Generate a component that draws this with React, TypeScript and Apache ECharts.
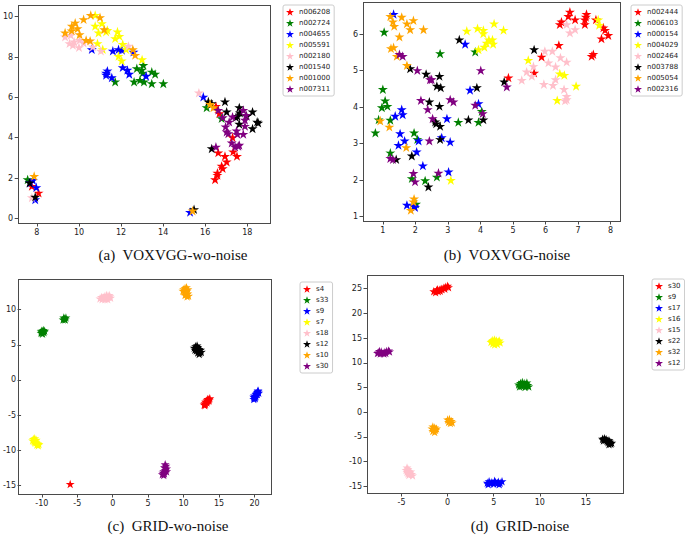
import React, { useEffect, useRef } from "react";
import * as echarts from "echarts";

const STAR =
  "path://M50 0L61.17 34.63L97.55 34.55L68.07 55.87L79.39 90.45L50 69L20.61 90.45L31.93 55.87L2.45 34.55L38.83 34.63Z";

const COLORS = ["#ff0000", "#008000", "#0000ff", "#ffff00", "#ffc0cb", "#000000", "#ffa500", "#800080"];

type P = [number, number];

// ---------- (a) VOXVGG-wo-noise ----------
const A_NAMES = ["n006208", "n002724", "n004655", "n005591", "n002180", "n001540", "n001000", "n007311"];
const A_N006208: P[] = [[16.51,5.57],[16.67,5.21],[17.3,4.02],[17.33,3.31],[17.51,3.09],[16.94,3.09],[17.02,2.81],[16.62,3.26],[16.78,2.6],[16.83,2.48],[16.58,2.26],[16.58,2.15],[16.47,1.93],[7.76,1.6],[8.08,1.27]];
const A_N002724: P[] = [[12.75,7.44],[13.06,7.6],[12.98,7.36],[13.03,7.22],[13.46,7.27],[13.62,7.16],[12.9,6.86],[13.09,6.78],[12.62,6.78],[13.46,6.69],[14.01,6.69],[11.72,6.78],[16.07,5.5],[16.78,4.96],[7.56,1.93]];
const A_N004655: P[] = [[10.61,8.38],[11.61,8.31],[11.88,8.38],[12.04,8.35],[12.59,8.26],[11.29,7.22],[11.35,7.32],[11.29,7.11],[11.56,6.99],[12.08,7.49],[12.3,7.36],[12.39,7.16],[13.19,7.06],[15.91,6.03],[15.28,0.31],[7.81,1.9],[7.97,1.54],[7.68,1.77],[7.92,0.94]];
const A_N005591: P[] = [[10.77,10.08],[11.09,9.67],[10.77,9.54],[10.93,9.21],[11.29,9.26],[11.35,9.34],[11.83,9.26],[11.92,9.04],[11.72,8.93],[12.08,8.64],[11.88,8.05],[12.03,7.82],[13.0,7.88],[10.88,8.68],[11.13,8.38],[12.24,8.38]];
const A_N002180: P[] = [[9.34,9.01],[9.61,9.09],[9.55,8.68],[9.77,8.76],[10.03,8.84],[10.0,8.48],[10.22,8.71],[9.71,8.6],[10.66,8.51],[11.04,8.31],[12.35,8.55],[15.7,6.23],[7.76,1.04]];
const A_N001540: P[] = [[16.15,5.79],[16.31,5.7],[16.94,5.79],[17.02,5.29],[17.62,5.5],[17.46,5.01],[17.53,5.07],[17.62,4.68],[17.65,5.24],[17.97,5.07],[18.25,5.29],[18.25,4.46],[18.47,4.79],[18.52,4.74],[16.31,3.47],[7.65,1.77],[7.92,1.07],[15.47,0.45]];
const A_N001000: P[] = [[9.34,9.21],[9.66,9.54],[9.82,9.7],[9.65,9.31],[9.93,9.42],[10.03,9.12],[10.22,9.87],[10.56,10.08],[10.34,8.84],[10.53,8.81],[11.0,9.97],[11.2,9.37],[12.56,8.38],[12.67,8.1],[16.39,5.5],[16.23,5.67],[7.87,2.1],[15.4,0.38]];
const A_N007311: P[] = [[16.62,5.37],[16.83,5.01],[17.14,4.79],[17.3,5.04],[16.97,4.55],[17.02,4.3],[17.1,4.21],[17.49,4.35],[17.53,4.18],[17.26,3.75],[17.42,3.55],[17.57,3.59],[16.51,3.55],[17.81,5.37],[17.94,5.12],[17.89,4.88],[17.89,4.58],[17.81,4.18],[17.62,3.64]];

// ---------- (b) VOXVGG-noise ----------
const B_NAMES = ["n002444", "n006103", "n000154", "n004029", "n002464", "n003788", "n005054", "n002316"];
const B_N002444: P[] = [[6.75,6.61],[6.7,6.49],[6.44,6.27],[6.49,6.34],[6.91,6.4],[7.21,6.27],[7.24,6.47],[7.26,6.55],[7.21,6.4],[7.55,6.4],[7.78,6.18],[7.83,6.11],[7.93,5.97],[7.72,5.88],[7.42,5.4],[7.47,5.45],[6.41,5.7],[5.88,5.38],[5.65,4.94],[4.86,4.81]];
const B_N006103: P[] = [[1.04,6.06],[2.76,5.47],[3.84,5.52],[1.0,4.49],[1.07,4.18],[1.14,4.03],[0.97,3.99],[0.87,3.66],[1.23,3.65],[0.77,3.3],[1.23,2.75],[3.32,3.59],[3.94,3.59],[4.04,3.89],[1.96,3.3],[2.06,3.12],[1.89,2.05],[2.3,1.99],[2.66,2.09],[2.02,1.35]];
const B_N000154: P[] = [[1.33,6.55],[3.53,5.73],[3.68,4.47],[3.94,4.1],[1.58,3.94],[1.61,3.8],[1.38,3.76],[1.53,3.28],[1.48,2.96],[1.67,3.08],[2.1,3.08],[2.04,2.78],[2.23,2.4],[2.97,3.69],[2.81,3.17],[3.07,3.05],[3.02,2.23],[1.74,1.32],[1.96,1.29],[1.99,1.26]];
const B_N004029: P[] = [[3.58,6.09],[3.91,6.16],[4.09,6.11],[4.09,6.02],[4.42,6.29],[4.71,6.11],[4.19,5.76],[4.12,5.65],[4.26,5.85],[4.37,5.85],[4.39,5.73],[3.94,5.58],[7.62,6.4],[7.65,6.25],[5.47,5.29],[6.44,4.92],[6.58,4.88],[6.94,4.58],[6.36,4.19],[3.09,2.0]];
const B_N002464: P[] = [[6.65,6.27],[6.75,6.04],[6.91,6.13],[5.98,5.54],[6.21,5.54],[6.09,5.22],[5.63,5.12],[5.42,4.97],[5.58,4.85],[5.27,4.74],[5.95,4.63],[6.23,4.6],[6.31,4.76],[6.46,5.36],[6.65,5.24],[6.31,5.11],[6.57,4.49],[6.65,4.3],[6.6,4.18],[6.65,4.21]];
const B_N003788: P[] = [[3.35,5.85],[5.65,5.58],[4.73,4.7],[1.84,5.06],[2.33,4.91],[2.74,4.85],[2.66,4.58],[2.78,4.54],[2.43,4.15],[2.74,4.03],[3.89,4.54],[2.61,3.6],[2.64,3.55],[2.76,3.48],[2.76,3.12],[3.63,3.66],[4.09,3.66],[1.89,2.67],[1.41,2.57],[2.4,1.82]];
const B_N005054: P[] = [[1.23,6.49],[1.31,6.34],[1.35,6.22],[1.58,6.47],[1.74,6.29],[1.84,6.13],[1.94,6.38],[2.25,6.13],[1.51,5.93],[1.25,5.61],[1.33,5.64],[1.43,5.4],[1.74,5.15],[0.92,3.63],[1.2,3.46],[1.72,2.9],[1.96,1.49],[1.94,1.41],[1.86,1.18]];
const B_N002316: P[] = [[1.51,5.45],[1.61,5.4],[2.06,5.01],[2.45,4.76],[2.5,4.76],[4.01,5.01],[4.81,4.56],[2.17,4.19],[2.38,3.94],[3.07,4.21],[3.17,4.15],[3.84,4.06],[4.07,3.83],[2.53,3.69],[1.23,2.6],[1.31,2.57],[2.43,3.08],[1.94,2.19],[1.99,1.96],[2.71,2.2]];

// ---------- (c) GRID-wo-noise ----------
const C_NAMES = ["s4", "s33", "s9", "s7", "s18", "s12", "s10", "s30"];
const C_S4: P[] = [[12.9,-3.5],[13.0,-3.3],[13.1,-3.4],[13.2,-3.1],[13.3,-3.2],[13.3,-2.9],[13.4,-3.0],[13.5,-2.8],[13.6,-2.7],[13.7,-2.6],[13.6,-2.9],[13.1,-3.1],[13.4,-2.7],[13.0,-3.6],[-6.0,-14.8]];
const C_S33: P[] = [[-10.1,6.7],[-9.9,6.6],[-9.7,6.8],[-9.8,7.1],[-10.0,7.0],[-9.9,6.9],[-9.6,7.0],[-10.1,6.9],[-7.0,8.6],[-6.8,8.7],[-6.6,8.9],[-6.9,8.9],[-6.7,8.6]];
const C_S9: P[] = [[19.9,-2.7],[20.0,-2.5],[20.1,-2.6],[20.0,-2.2],[20.2,-2.3],[20.2,-2.0],[20.3,-1.9],[20.4,-1.7],[20.5,-1.6],[20.6,-1.8],[20.5,-1.5],[20.1,-2.4],[20.4,-2.0],[19.9,-2.4]];
const C_S7: P[] = [[-11.2,-8.4],[-11.0,-8.3],[-11.1,-8.7],[-10.9,-8.6],[-10.8,-8.9],[-10.6,-9.0],[-10.7,-9.2],[-10.5,-9.3],[-10.4,-9.1],[-11.0,-8.9],[-10.8,-8.5],[-11.3,-8.6]];
const C_S18: P[] = [[-1.8,11.6],[-1.6,11.8],[-1.4,11.7],[-1.2,11.9],[-1.0,11.6],[-0.8,12.0],[-0.6,11.8],[-0.4,11.9],[-0.3,11.7],[-0.5,12.1],[-1.1,11.5],[-0.7,11.5],[-1.5,11.5],[-0.9,12.1]];
const C_S12: P[] = [[11.5,4.6],[11.7,4.8],[11.9,4.5],[12.0,4.7],[12.2,4.4],[11.8,4.2],[12.1,4.1],[12.3,3.9],[12.4,4.3],[12.5,4.0],[12.2,3.7],[11.6,4.3],[12.0,3.9],[11.9,4.9]];
const C_S10: P[] = [[10.0,12.9],[10.2,13.1],[10.4,13.2],[10.6,12.9],[10.1,12.6],[10.3,12.5],[10.5,12.7],[10.4,12.2],[10.6,12.3],[10.2,12.1],[10.7,12.0],[9.9,12.7],[10.5,11.9]];
const C_S30: P[] = [[7.4,-12.0],[7.5,-12.2],[7.3,-12.4],[7.6,-12.6],[7.4,-12.8],[7.2,-13.0],[7.1,-13.2],[7.0,-13.4],[7.3,-13.3],[7.6,-13.0],[7.4,-12.5],[7.2,-13.5]];

// ---------- (d) GRID-noise ----------
const D_NAMES = ["s30", "s9", "s17", "s16", "s15", "s22", "s32", "s12"];
const D_S30: P[] = [[-1.5,24.5],[-1.3,24.3],[-1.2,24.7],[-1.0,24.5],[-0.9,24.8],[-0.7,25.0],[-0.6,24.9],[-0.4,25.2],[-0.3,25.0],[-0.2,25.4],[0.0,25.6],[0.1,25.3],[-0.8,24.6],[-1.1,24.9]];
const D_S9: P[] = [[7.7,5.6],[7.9,5.9],[8.1,6.1],[8.3,5.9],[8.5,5.7],[8.7,5.5],[8.8,5.2],[8.4,5.1],[8.0,5.3],[8.2,5.5],[7.8,5.2],[8.6,6.0],[8.5,5.3]];
const D_S17: P[] = [[4.3,-14.3],[4.5,-14.0],[4.6,-14.4],[4.8,-14.2],[5.0,-14.5],[5.2,-14.2],[5.4,-14.4],[5.5,-14.1],[5.7,-14.3],[5.9,-14.0],[5.6,-14.6],[4.4,-14.6],[5.1,-13.9]];
const D_S16: P[] = [[4.7,14.2],[4.9,14.6],[5.1,14.7],[5.3,14.5],[5.5,14.3],[5.7,14.1],[5.4,13.8],[5.1,13.7],[4.9,13.9],[5.2,14.2],[4.8,14.4],[5.6,14.5],[5.0,14.3]];
const D_S15: P[] = [[-4.4,-11.2],[-4.3,-11.5],[-4.5,-11.7],[-4.2,-11.9],[-4.4,-12.1],[-4.1,-12.3],[-3.9,-12.5],[-4.2,-12.7],[-3.8,-12.8],[-4.3,-12.4],[-4.0,-12.0]];
const D_S22: P[] = [[16.8,-5.4],[17.0,-5.3],[17.1,-5.6],[16.9,-5.7],[17.3,-5.8],[17.5,-5.7],[17.4,-6.1],[17.6,-6.0],[17.7,-6.4],[17.5,-6.5],[17.2,-5.5],[17.8,-6.2]];
const D_S32: P[] = [[-1.6,-2.9],[-1.4,-3.1],[-1.7,-3.3],[-1.5,-3.5],[-1.3,-3.6],[-1.6,-3.8],[-1.4,-4.0],[-1.2,-3.3],[0.0,-1.5],[0.2,-1.7],[0.4,-1.8],[0.1,-2.0],[0.5,-2.1],[0.3,-2.2],[0.2,-1.4]];
const D_S12: P[] = [[-7.5,12.1],[-7.3,11.9],[-7.2,12.3],[-7.0,12.0],[-6.8,12.2],[-6.6,12.4],[-6.4,12.5],[-6.3,12.3],[-6.9,11.9],[-7.4,12.4],[-6.7,12.0],[-7.6,12.0]];

// tick values
const A_XTICKS = [8, 10, 12, 14, 16, 18];
const A_YTICKS = [0, 2, 4, 6, 8, 10];
const B_XTICKS = [1, 2, 3, 4, 5, 6, 7, 8];
const B_YTICKS = [1, 2, 3, 4, 5, 6];
const C_XTICKS = [-10, -5, 0, 5, 10, 15, 20];
const C_YTICKS = [-15, -10, -5, 0, 5, 10];
const D_XTICKS = [-5, 0, 5, 10, 15];
const D_YTICKS = [-15, -10, -5, 0, 5, 10, 15, 20, 25];

const CAPTIONS = ["(a)  VOXVGG-wo-noise", "(b)  VOXVGG-noise", "(c)  GRID-wo-noise", "(d)  GRID-noise"];

const PANELS = [
  { names: A_NAMES, data: [A_N006208, A_N002724, A_N004655, A_N005591, A_N002180, A_N001540, A_N001000, A_N007311], xt: A_XTICKS, yt: A_YTICKS,
    grid: { left: 18, top: 5, width: 252, height: 218 }, xr: [7.11, 19.08], yr: [-0.23, 10.58],
    legend: { left: 283, top: 5 }, caption: [173, 255], size: 10 },
  { names: B_NAMES, data: [B_N002444, B_N006103, B_N000154, B_N004029, B_N002464, B_N003788, B_N005054, B_N002316], xt: B_XTICKS, yt: B_YTICKS,
    grid: { left: 363, top: 2, width: 257, height: 219 }, xr: [0.39, 8.29], yr: [0.88, 6.88],
    legend: { left: 631, top: 5 }, caption: [507, 255], size: 10 },
  { names: C_NAMES, data: [C_S4, C_S33, C_S9, C_S7, C_S18, C_S12, C_S10, C_S30], xt: C_XTICKS, yt: C_YTICKS,
    grid: { left: 18, top: 279, width: 253, height: 215 }, xr: [-12.93, 22.33], yr: [-16.22, 14.37],
    legend: { left: 300, top: 282 }, caption: [168, 526], size: 9 },
  { names: D_NAMES, data: [D_S30, D_S9, D_S17, D_S16, D_S15, D_S22, D_S32, D_S12], xt: D_XTICKS, yt: D_YTICKS,
    grid: { left: 367, top: 275, width: 256, height: 218 }, xr: [-8.74, 19.02], yr: [-16.36, 27.78],
    legend: { left: 652, top: 279 }, caption: [520, 526], size: 9 },
];

const FRAME = "#4a4a4a";

export default function App() {
  const ref = useRef<HTMLDivElement>(null);
  useEffect(() => {
    if (!ref.current) return;
    const chart = echarts.init(ref.current, undefined, { renderer: "svg" });
    const grids: any[] = [];
    const xAxes: any[] = [];
    const yAxes: any[] = [];
    const legends: any[] = [];
    const series: any[] = [];
    const graphics: any[] = [];
    PANELS.forEach((p, pi) => {
      const g = p.grid;
      grids.push({ left: g.left, top: g.top, width: g.width, height: g.height });
      xAxes.push({
        type: "value", gridIndex: pi, min: p.xr[0], max: p.xr[1], position: "bottom",
        axisLine: { show: false, onZero: false },
        splitLine: { show: false },
        axisTick: { show: true, inside: false, length: 3.5, lineStyle: { color: FRAME }, customValues: p.xt },
        axisLabel: { color: "#222222", fontSize: 8, fontFamily: "DejaVu Sans", margin: 5, customValues: p.xt },
      });
      yAxes.push({
        type: "value", gridIndex: pi, min: p.yr[0], max: p.yr[1], position: "left",
        axisLine: { show: false, onZero: false },
        splitLine: { show: false },
        axisTick: { show: true, inside: false, length: 3.5, lineStyle: { color: FRAME }, customValues: p.yt },
        axisLabel: { color: "#222222", fontSize: 8, fontFamily: "DejaVu Sans", margin: 5, customValues: p.yt },
      });
      legends.push({
        orient: "vertical", left: p.legend.left, top: p.legend.top,
        itemWidth: 8, itemHeight: 8, itemGap: 3,
        padding: [3, 4, 3, 3],
        borderColor: "#cccccc", borderWidth: 1, borderRadius: 2, backgroundColor: "#ffffff",
        textStyle: { fontSize: 7, color: "#222222", fontFamily: "DejaVu Sans", lineHeight: 8 },
        selectedMode: false,
        data: p.names.map((n, i) => ({ name: n, icon: STAR, itemStyle: { color: COLORS[i], borderWidth: 0 } })),
      });
      p.names.forEach((n, i) => {
        series.push({
          type: "scatter", name: n, xAxisIndex: pi, yAxisIndex: pi,
          data: p.data[i], symbol: STAR, symbolSize: p.size, symbolKeepAspect: true,
          itemStyle: { color: COLORS[i], opacity: 1 },
        });
      });
      // plot-area box as four thin filled bars along the grid rectangle
      const bars = [
        { x: g.left, y: g.top, width: g.width + 1, height: 1 },
        { x: g.left, y: g.top + g.height, width: g.width + 1, height: 1 },
        { x: g.left, y: g.top, width: 1, height: g.height + 1 },
        { x: g.left + g.width, y: g.top, width: 1, height: g.height + 1 },
      ];
      bars.forEach((b) => {
        graphics.push({ type: "rect", z: 10, shape: b, style: { fill: FRAME } });
      });
      graphics.push({
        type: "text", x: p.caption[0], y: p.caption[1],
        style: {
          text: CAPTIONS[pi], fontSize: 15, fontFamily: "Liberation Serif", fill: "#111111",
          align: "center", verticalAlign: "middle",
        },
      });
    });
    chart.setOption({
      animation: false,
      grid: grids, xAxis: xAxes, yAxis: yAxes, legend: legends, series, graphic: graphics,
    });
    return () => chart.dispose();
  }, []);
  return (
    <div style={{ position: "absolute", left: 0, top: 0, width: 685, height: 535, background: "#ffffff" }}>
      <div ref={ref} style={{ position: "absolute", left: 0, top: 0, width: 685, height: 535 }} />
    </div>
  );
}
